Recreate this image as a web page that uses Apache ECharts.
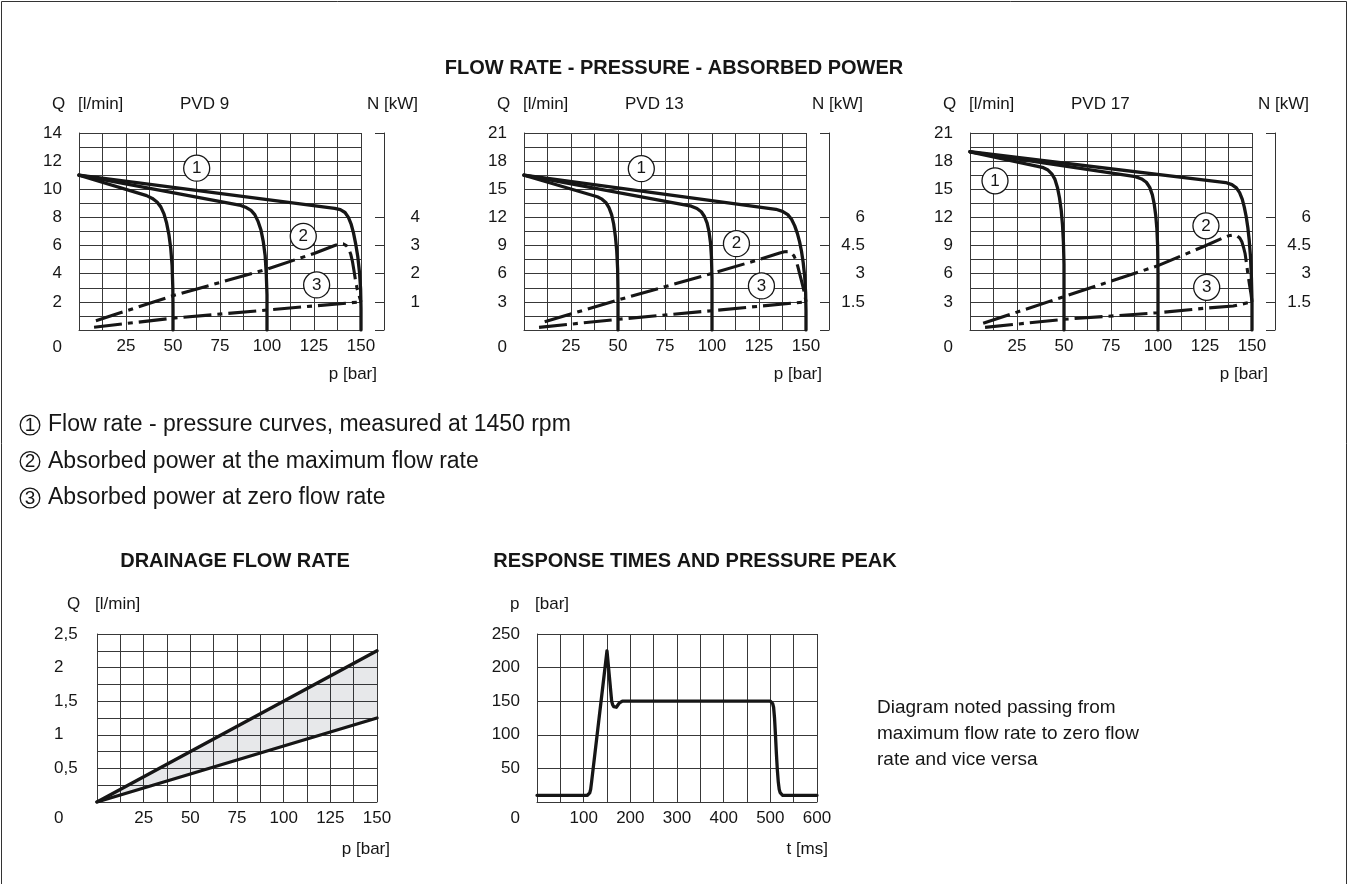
<!DOCTYPE html>
<html><head><meta charset="utf-8">
<script src="https://cdn.jsdelivr.net/npm/echarts@6/dist/echarts.min.js"></script>
<style>html,body{margin:0;padding:0;background:#fff}#c{width:1348px;height:884px}</style>
</head><body><div id="c"></div>
<script>
// ================= DATA =================
const mainTitle = 'FLOW RATE - PRESSURE - ABSORBED POWER';
const pumpNames = ['PVD 9', 'PVD 13', 'PVD 17'];
const pTickLabels = [25, 50, 75, 100, 125, 150];
const qTickLabels = [[2, 4, 6, 8, 10, 12, 14], [3, 6, 9, 12, 15, 18, 21], [3, 6, 9, 12, 15, 18, 21]];
const nTickLabels = [[1, 2, 3, 4], [1.5, 3, 4.5, 6], [1.5, 3, 4.5, 6]];
const nTicks = [[0, 1, 2, 3, 4, 7], [0, 1.5, 3, 4.5, 6, 10.5], [0, 1.5, 3, 4.5, 6, 10.5]];

// PVD 9  flow: (p bar, Q l/min) ; power: (p bar, N kW)
const pvd9Flow50  = [[0,11],[36,9.55],[39,9.35],[41.5,9.1],[43.5,8.75],[45.2,8.25],[46.6,7.6],[47.8,6.8],[48.8,5.8],[49.5,4.6],[49.9,3],[50,1.5],[50,0]];
const pvd9Flow100 = [[0,11],[86,8.85],[89,8.7],[91.5,8.5],[93.5,8.2],[95.3,7.7],[96.8,7.1],[98,6.3],[99,5.3],[99.6,4],[100,2.5],[100,0]];
const pvd9Flow150 = [[0,11],[136,8.64],[139,8.55],[141.5,8.35],[143.3,8.0],[144.8,7.5],[146,6.9],[147.2,6.1],[148.3,5.2],[149.2,4.1],[149.8,2.9],[150,1.5],[150,0]];
const pvd9PowerMax  = [[9,0.33],[50,1.22],[100,2.16],[125,2.72],[136,3.0],[138.5,3.06],[140.5,3.06],[142.2,3.0],[143.5,2.88],[144.6,2.68],[145.5,2.42],[146.3,2.1],[147.1,1.75],[148,1.45],[149,1.22],[150,1.0]];
const pvd9PowerZero = [[8,0.1],[50,0.42],[100,0.71],[150,1.0]];
const pvd9Marks = [[62.6,11.5,'1'],[119.3,6.66,'2'],[126.4,3.2,'3']];

// PVD 13
const pvd13Flow50  = [[0,16.5],[39,14.2],[41.5,13.95],[43.5,13.6],[45.2,13.05],[46.6,12.3],[47.7,11.3],[48.6,10],[49.3,8.5],[49.8,6.5],[50,4],[50,0]];
const pvd13Flow100 = [[0,16.5],[89,13.2],[92,12.95],[94.3,12.6],[96,12.1],[97.4,11.4],[98.4,10.5],[99.2,9.3],[99.7,7.8],[100,5.5],[100,0]];
const pvd13Flow150 = [[0,16.5],[134,12.87],[137.5,12.65],[140.3,12.3],[142.3,11.8],[144,11.1],[145.4,10.3],[146.6,9.4],[147.6,8.4],[148.5,7.2],[149.3,5.7],[149.8,4],[150,2],[150,0]];
const pvd13PowerMax  = [[11,0.44],[50,1.6],[100,3.02],[125,3.75],[136,4.1],[138.5,4.17],[140.5,4.18],[142.3,4.1],[143.6,3.95],[144.7,3.7],[145.6,3.4],[146.5,3.05],[147.4,2.7],[148.4,2.3],[149.3,1.9],[150,1.5]];
const pvd13PowerZero = [[8,0.14],[50,0.57],[100,1.03],[150,1.5]];
const pvd13Marks = [[62.4,17.2,'1'],[113,9.2,'2'],[126.3,4.7,'3']];

// PVD 17
const pvd17Flow50  = [[0,19],[36,17.45],[39,17.3],[41.5,17.05],[43.5,16.65],[45.2,16.05],[46.5,15.2],[47.6,14.1],[48.5,12.8],[49.2,11.2],[49.7,9.3],[50,7],[50,0]];
const pvd17Flow100 = [[0,19],[88,16.35],[91.3,16.1],[93.8,15.75],[95.6,15.2],[97,14.4],[98,13.4],[98.8,12.2],[99.4,10.8],[99.8,9],[100,6],[100,0]];
const pvd17Flow150 = [[0,19],[136,15.72],[139.3,15.5],[141.7,15.15],[143.4,14.65],[144.8,13.95],[145.9,13.1],[146.9,12.1],[147.8,10.9],[148.5,9.6],[149.2,7.8],[149.7,5.5],[150,3],[150,0]];
const pvd17PowerMax  = [[7,0.36],[50,1.78],[100,3.43],[124,4.44],[134,4.88],[137.5,5.02],[140,5.07],[142,5.02],[143.5,4.9],[144.6,4.7],[145.5,4.4],[146.3,4.09],[147,3.6],[147.8,3.0],[148.7,2.4],[149.5,1.9],[150,1.5]];
const pvd17PowerZero = [[8,0.14],[50,0.57],[100,0.92],[125,1.16],[140,1.28],[150,1.5]];
const pvd17Marks = [[13.3,15.9,'1'],[125.5,11.1,'2'],[125.9,4.55,'3']];

const legendItems = ['Flow rate - pressure curves, measured at 1450 rpm', 'Absorbed power at the maximum flow rate', 'Absorbed power at zero flow rate'];

// Drainage flow rate
const drainTitle = 'DRAINAGE FLOW RATE';
const drainP = [0, 150];
const drainUpper = [0, 2.25];
const drainLower = [0, 1.25];
const drainQLabels = [0.5, 1, 1.5, 2, 2.5];

// Response times
const respTitle = 'RESPONSE TIMES AND PRESSURE PEAK';
const respT = [0, 108, 111, 113, 115, 117, 150, 160, 162, 164.5, 167, 170, 173, 176, 179, 183, 500, 503, 505, 507, 509, 511, 513, 515, 517, 519, 521, 523, 526, 600];
const respP = [10, 10, 11, 13.5, 19, 30, 225, 150, 145, 142, 141, 141, 143, 147, 149.5, 150, 150, 149, 146.5, 141, 125, 100, 72, 48, 30, 19, 14, 11.5, 10, 10];
const respTLabels = [100, 200, 300, 400, 500, 600];
const respPLabels = [50, 100, 150, 200, 250];
const respNote = ['Diagram noted passing from', 'maximum flow rate to zero flow', 'rate and vice versa'];

// ================= CHART =================
const FONT = '"Liberation Sans", Arial, Helvetica, sans-serif';
const GRIDC = '#383838';
const INK = '#161616';
const AX = 17;
const has = (arr, v) => arr.some(a => Math.abs(a - v) < 1e-6);

const grids = [
  {left: 79, top: 133, width: 282, height: 197},
  {left: 524, top: 133, width: 282, height: 197},
  {left: 970, top: 133, width: 282, height: 197},
  {left: 97, top: 634, width: 280, height: 168},
  {left: 537, top: 634, width: 280, height: 168}
];

const gl = {show: true, lineStyle: {color: GRIDC, width: 1}};
const lbl = (extra) => Object.assign({fontSize: AX, fontFamily: FONT, color: INK}, extra);

const xAxes = [], yAxes = [], series = [];
const flows = [[pvd9Flow50, pvd9Flow100, pvd9Flow150], [pvd13Flow50, pvd13Flow100, pvd13Flow150], [pvd17Flow50, pvd17Flow100, pvd17Flow150]];
const powMax = [pvd9PowerMax, pvd13PowerMax, pvd17PowerMax];
const powZero = [pvd9PowerZero, pvd13PowerZero, pvd17PowerZero];
const marks = [pvd9Marks, pvd13Marks, pvd17Marks];
const qMax = [14, 21, 21], qInt = [1, 1.5, 1.5], nMax = [7, 10.5, 10.5], nInt = [1, 1.5, 1.5];

const curveStyle = {color: INK, width: 3.3, join: 'round', cap: 'round'};
const dashStyle = {color: INK, width: 3.1, type: [28, 6, 5, 6], join: 'round'};
for (let i = 0; i < 3; i++) {
  xAxes.push({gridIndex: i, type: 'value', min: 0, max: 150, interval: 12.5,
    axisLine: gl, axisTick: {show: false}, splitLine: gl,
    axisLabel: lbl({margin: 8, formatter: v => has(pTickLabels, v) ? String(v) : ''})});
  yAxes.push({gridIndex: i, type: 'value', position: 'left', min: 0, max: qMax[i], interval: qInt[i],
    axisLine: gl, axisTick: {show: false}, splitLine: gl,
    axisLabel: lbl({margin: 17, formatter: v => has(qTickLabels[i], v) ? String(v) : ''})});
  yAxes.push({gridIndex: i, type: 'value', position: 'right', offset: 23, min: 0, max: nMax[i], interval: nInt[i],
    axisLine: {show: true, lineStyle: {color: '#333', width: 1}},
    axisTick: {show: true, inside: true, length: 9, customValues: nTicks[i], lineStyle: {color: '#333', width: 1}},
    splitLine: {show: false},
    axisLabel: lbl({customValues: nTickLabels[i], align: 'right', margin: 36, formatter: v => String(v)})});
  flows[i].forEach(d => series.push({type: 'line', xAxisIndex: i, yAxisIndex: 2 * i, data: d,
    showSymbol: false, lineStyle: curveStyle, z: 3, silent: true}));
  series.push({type: 'line', xAxisIndex: i, yAxisIndex: 2 * i + 1, data: powMax[i], showSymbol: false,
    lineStyle: dashStyle, z: 3, silent: true});
  series.push({type: 'line', xAxisIndex: i, yAxisIndex: 2 * i + 1, data: powZero[i], showSymbol: false,
    lineStyle: dashStyle, z: 3, silent: true});
  series.push({type: 'scatter', xAxisIndex: i, yAxisIndex: 2 * i, data: marks[i], symbol: 'circle', symbolSize: 26,
    itemStyle: {color: '#fff', borderColor: INK, borderWidth: 1.3, opacity: 1}, z: 5, silent: true,
    label: {show: true, position: 'inside', formatter: p => p.data[2], fontSize: 17, fontFamily: FONT, color: INK}});
}

// Drainage
xAxes.push({gridIndex: 3, type: 'value', min: 0, max: 150, interval: 12.5, axisLine: gl, axisTick: {show: false}, splitLine: gl,
  axisLabel: lbl({margin: 8, formatter: v => has(pTickLabels, v) ? String(v) : ''})});
yAxes.push({gridIndex: 3, type: 'value', min: 0, max: 2.5, interval: 0.25, axisLine: gl, axisTick: {show: false}, splitLine: gl,
  axisLabel: lbl({margin: 43, align: 'left', formatter: v => has(drainQLabels, v) ? String(v).replace('.', ',') : ''})});
series.push({type: 'custom', xAxisIndex: 3, yAxisIndex: 6, silent: true, z: 1,
  data: drainP.map((p, k) => [p, drainLower[k], drainUpper[k]]),
  encode: {x: 0, y: [1, 2]},
  renderItem: (params, api) => {
    if (params.dataIndex !== 0) return null;
    const up = drainP.map((p, k) => api.coord([p, drainUpper[k]]));
    const lo = drainP.map((p, k) => api.coord([p, drainLower[k]])).reverse();
    return {type: 'polygon', shape: {points: up.concat(lo)}, style: {fill: 'rgba(20,30,50,0.1)'}};
  }});
series.push({type: 'line', xAxisIndex: 3, yAxisIndex: 6, data: drainP.map((p, k) => [p, drainUpper[k]]), showSymbol: false, lineStyle: curveStyle, z: 3, silent: true});
series.push({type: 'line', xAxisIndex: 3, yAxisIndex: 6, data: drainP.map((p, k) => [p, drainLower[k]]), showSymbol: false, lineStyle: curveStyle, z: 3, silent: true});

// Response
xAxes.push({gridIndex: 4, type: 'value', min: 0, max: 600, interval: 50, axisLine: gl, axisTick: {show: false}, splitLine: gl,
  axisLabel: lbl({margin: 8, formatter: v => has(respTLabels, v) ? String(v) : ''})});
yAxes.push({gridIndex: 4, type: 'value', min: 0, max: 250, interval: 50, axisLine: gl, axisTick: {show: false}, splitLine: gl,
  axisLabel: lbl({margin: 17, formatter: v => has(respPLabels, v) ? String(v) : ''})});
series.push({type: 'line', xAxisIndex: 4, yAxisIndex: 7, data: respT.map((t, k) => [t, respP[k]]), showSymbol: false,
  lineStyle: curveStyle, z: 3, silent: true});

// Texts
const txt = (x, y, text, o = {}) => ({type: 'text', x, y, z: 100, silent: true,
  style: {text, fill: INK, fontSize: o.size || AX, fontFamily: FONT, fontWeight: o.bold ? 'bold' : 'normal',
    align: o.align || 'left', verticalAlign: 'middle'}});
const graphic = [];
graphic.push({type: 'rect', shape: {x: 1.5, y: 1.5, width: 1345, height: 900}, style: {fill: 'none', stroke: '#333', lineWidth: 1}, silent: true});
graphic.push(txt(674, 68, mainTitle, {bold: true, size: 20, align: 'center'}));
for (let i = 0; i < 3; i++) {
  const L = grids[i].left;
  graphic.push(txt(L - 27, 104, 'Q'));
  graphic.push(txt(L - 1, 104, '[l/min]'));
  graphic.push(txt(L + 101, 104, pumpNames[i]));
  graphic.push(txt(L + 339, 104, 'N [kW]', {align: 'right'}));
  graphic.push(txt(L + 298, 374, 'p [bar]', {align: 'right'}));
  graphic.push(txt(L - 17, 347, '0', {align: 'right'}));
}
legendItems.forEach((t, k) => {
  const y = 425 + k * 36.5;
  graphic.push({type: 'circle', shape: {cx: 30, cy: y, r: 9.8}, style: {fill: '#fff', stroke: INK, lineWidth: 1.3}, silent: true});
  graphic.push(txt(30, y + 0.5, String(k + 1), {size: 19, align: 'center'}));
  graphic.push(txt(48, y, t, {size: 23}));
});
graphic.push(txt(235, 561, drainTitle, {bold: true, size: 20, align: 'center'}));
graphic.push(txt(695, 561, respTitle, {bold: true, size: 20, align: 'center'}));
{
  const L = grids[3].left;
  graphic.push(txt(L - 30, 604, 'Q'));
  graphic.push(txt(L - 2, 604, '[l/min]'));
  graphic.push(txt(L + 293, 849, 'p [bar]', {align: 'right'}));
  graphic.push(txt(L - 43, 818, '0'));
}
{
  const L = grids[4].left;
  graphic.push(txt(L - 27, 604, 'p'));
  graphic.push(txt(L - 2, 604, '[bar]'));
  graphic.push(txt(L + 291, 849, 't [ms]', {align: 'right'}));
  graphic.push(txt(L - 17, 818, '0', {align: 'right'}));
}
respNote.forEach((t, k) => graphic.push(txt(877, 708 + k * 26, t, {size: 19})));

const chart = echarts.init(document.getElementById('c'), null, {renderer: 'canvas'});
chart.setOption({
  animation: false,
  backgroundColor: '#fff',
  grid: grids.map(g => Object.assign({containLabel: false}, g)),
  xAxis: xAxes,
  yAxis: yAxes,
  series,
  graphic
});
</script></body></html>
